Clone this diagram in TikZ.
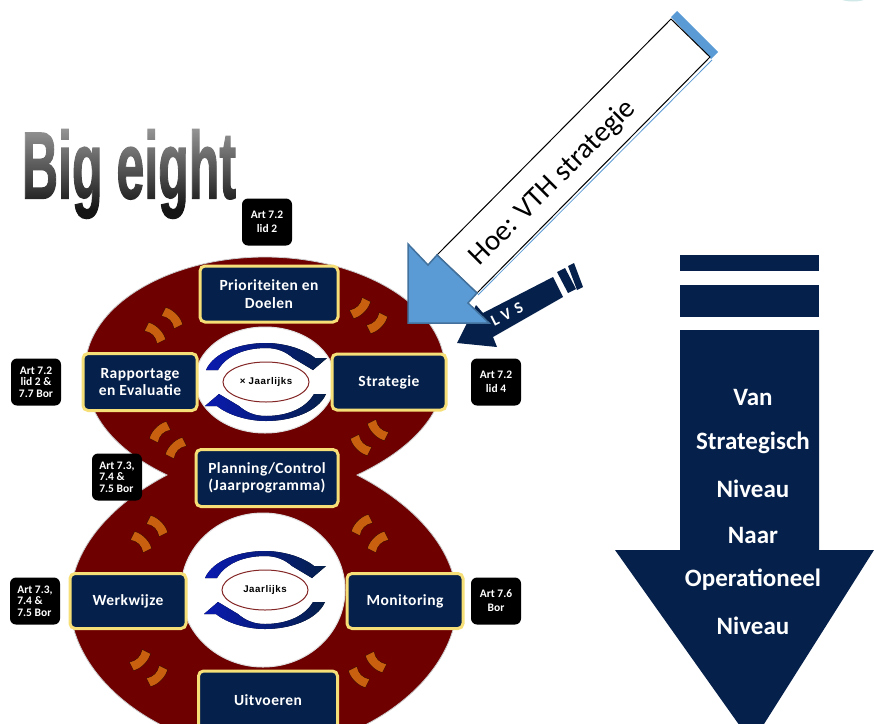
\documentclass[tikz,border=0pt]{standalone}
\usepackage{fontspec}
\usetikzlibrary{shapes.geometric,fadings}
\setmainfont{Carlito}
\newfontfamily\bigfam{Liberation Sans Bold}
\newfontfamily\boxfam{Carlito Bold}[LetterSpace=3]
\newfontfamily\tagfam{Carlito Bold}
\newfontfamily\smallfam{Liberation Sans Bold}[LetterSpace=6]
\newfontfamily\lvsfam{Carlito Bold}[LetterSpace=35]
\definecolor{navy}{HTML}{05204A}
\definecolor{wine}{HTML}{6E0000}
\definecolor{gold}{HTML}{F7DF78}
\definecolor{tickor}{HTML}{C9600F}
\definecolor{skyb}{HTML}{5B9BD5}
\definecolor{skyd}{HTML}{41719C}
\definecolor{ringb}{HTML}{0A1AB0}
\tikzset{
 labelbox/.style={draw=gold,fill=navy,line width=3pt,rounded corners=5pt,text=white,align=center,inner sep=0pt,
   font=\boxfam\fontsize{15.5}{17.5}\selectfont},
 tagbox/.style={fill=black,rounded corners=6pt,text=white,inner sep=0pt,minimum width=50pt,minimum height=47pt},
 tagtwo/.style={tagbox,align=center,font=\tagfam\fontsize{11.5}{14}\selectfont},
 tagthree/.style={tagbox,font=\tagfam\fontsize{11.5}{11.3}\selectfont},
 holeshape/.style={fill=white,draw=black!12,line width=1pt},
 ringtext/.style={ellipse,draw=wine!85,fill=white,line width=1pt,minimum width=86pt,minimum height=40pt,inner sep=0pt,
   font=\smallfam\fontsize{9.7}{10}\selectfont},
 downtext/.style={text=white,font=\tagfam\fontsize{25}{27}\selectfont},
 flowtick/.pic={\filldraw[fill=tickor,draw=black!70!wine,line width=.3pt]
   (3,-12) .. controls (7,-5) and (7,5) .. (3,12) -- (-6,9) .. controls (-2,3) and (-2,-3) .. (-6,-9) -- cycle;},
 ringarrow/.pic={\filldraw[left color=ringb,middle color=ringb,right color=navy,draw=none]
   (-60,-12) .. controls (-52,-30) and (-25,-39) .. (0,-39) .. controls (18,-39) and (38,-33) .. (49,-24)
   -- (61,-24) -- (47,-12) -- (27,-24) .. controls (20,-30) and (12,-34) .. (0,-34)
   .. controls (-22,-34) and (-40,-26) .. (-48,-12) -- cycle;},
}
\begin{document}
\begin{tikzpicture}[x=1pt,y=-1pt]
\useasboundingbox (0,0) rectangle (874,723);
\clip (0,0) rectangle (874,723);
\fill[white] (0,0) rectangle (874,723);
\fill[teal!18] (853,-2) ellipse (13 and 3.5);
% Title: one dark text with a light outline, paled from the top down by a white veil
\node[inner sep=0pt] (title) at (129,174) {\scalebox{0.527}[1]{\special{pdf:code 2 Tr 0.78 G 1.6 w}\fontsize{95}{95}\bigfam\color{black!92}Big eight\special{pdf:code 0 Tr}}};
\fill[white,fill opacity=.62,path fading=south] (15,118) rectangle (245,210);
% Figure eight
\filldraw[fill=wine,draw=black!20,line width=.8pt]
 (357,475) .. controls (410,450) and (445,415) .. (445,370)
 .. controls (445,305) and (360,257) .. (265,257)
 .. controls (170,257) and (85,305) .. (85,370)
 .. controls (85,415) and (115,450) .. (167,475)
 .. controls (110,505) and (70,550) .. (70,602)
 .. controls (70,680) and (165,750) .. (263,750)
 .. controls (361,750) and (457,680) .. (457,602)
 .. controls (457,550) and (415,505) .. (357,475) -- cycle;
\path[holeshape] (265,380) ellipse (70 and 53);
\path[holeshape] (263,590) ellipse (82 and 77);
% Ticks
\pic[rotate=45] at (155,333) {flowtick};
\pic[rotate=45] at (172,318) {flowtick};
\pic[rotate=-45] at (360,308) {flowtick};
\pic[rotate=-45] at (377,323) {flowtick};
\pic[rotate=135] at (160,432) {flowtick};
\pic[rotate=135] at (176,448) {flowtick};
\pic[rotate=-135] at (378,430) {flowtick};
\pic[rotate=-135] at (361,445) {flowtick};
\pic[rotate=45] at (141,542) {flowtick};
\pic[rotate=45] at (157,526) {flowtick};
\pic[rotate=135] at (362,525) {flowtick};
\pic[rotate=135] at (378,542) {flowtick};
\pic[rotate=-45] at (140,660) {flowtick};
\pic[rotate=-45] at (157,676) {flowtick};
\pic[rotate=-135] at (376,662) {flowtick};
\pic[rotate=-135] at (359,677) {flowtick};
% Ring arrows
\pic at (266,382) {ringarrow};
\pic[rotate=180] at (266,382) {ringarrow};
\pic at (265,590) {ringarrow};
\pic[rotate=180] at (265,590) {ringarrow};
\node[ringtext] (ringa) at (266,382) {× Jaarlijks};
\node[ringtext] (ringb) at (265,590) {Jaarlijks};
% Boxes
\node[labelbox,minimum width=138pt,minimum height=56pt] (prio) at (269,294) {Prioriteiten en\\Doelen};
\node[labelbox,minimum width=114pt,minimum height=56pt] (strat) at (389,382) {Strategie};
\node[labelbox,minimum width=114pt,minimum height=57pt] (rapp) at (140,382) {Rapportage\\en Evaluatie};
\node[labelbox,minimum width=142pt,minimum height=57pt] (plan) at (267,478) {Planning/Control\\(Jaarprogramma)};
\node[labelbox,minimum width=116pt,minimum height=55pt] (werk) at (128,601) {Werkwijze};
\node[labelbox,minimum width=116pt,minimum height=55pt] (moni) at (405,601) {Monitoring};
\node[labelbox,minimum width=139pt,minimum height=58pt] (uit) at (268,700) {Uitvoeren};
% Tags
\node[tagtwo] (t1) at (267,222) {Art 7.2\\lid 2};
\node[tagtwo] (t2) at (496,382) {Art 7.2\\lid 4};
\node[tagthree,align=center] (t3) at (36,382) {Art 7.2\\lid 2 \&\\7.7 Bor};
\node[tagthree,align=left] (t4) at (117,477) {Art 7.3,\\7.4 \&\\7.5 Bor};
\node[tagthree,align=left] (t5) at (35,601) {Art 7.3,\\7.4 \&\\7.5 Bor};
\node[tagtwo] (t6) at (496,601) {Art 7.6\\Bor};
% Down arrow
\fill[navy] (680,255) rectangle (819,271);
\fill[navy] (680,285) rectangle (819,317);
\fill[navy] (680,330) -- (819,330) -- (819,550) -- (874,550) -- (752,743) -- (615,550) -- (680,550) -- cycle;
\node[downtext] (d1) at (753,397) {Van};
\node[downtext] (d2) at (753,443) {Strategisch};
\node[downtext] (d3) at (753,489) {Niveau};
\node[downtext] (d4) at (753,535) {Naar};
\node[downtext] (d5) at (753,580) {Operationeel};
\node[downtext] (d6) at (753,626) {Niveau};
% LVS arrow
\fill[navy] (457,343) -- (476,305) -- (483,313) -- (553,277) -- (563,297) -- (493,337) -- (497,347) -- cycle;
\fill[navy] (557,272) -- (565,268) -- (576,289) -- (568,293) -- cycle;
\fill[navy] (568,266) -- (574,263) -- (583,287) -- (577,290) -- cycle;
\node[text=white,rotate=27,font=\lvsfam\fontsize{16}{16}\selectfont] (lvs) at (507,314) {LVS};
% VTH arrow
\fill[skyb] (671,17) -- (677,11) -- (718,52) -- (711,59) -- cycle;
\draw[skyb,line width=.8pt] (478,295) -- (712,60);
\filldraw[fill=white,draw=black,line width=1pt] (437,255) -- (671,19) -- (710,57) -- (477,293) -- cycle;
\filldraw[fill=skyb,draw=skyd,line width=1.5pt] (408,244) -- (428,265) -- (437,255) -- (477,293) -- (468,303) -- (489,323) -- (408,323) -- cycle;
\node[rotate=45,text=black,font=\fontsize{29}{30}\selectfont] (vth) at (553,183) {Hoe: VTH strategie};
\end{tikzpicture}
\end{document}
